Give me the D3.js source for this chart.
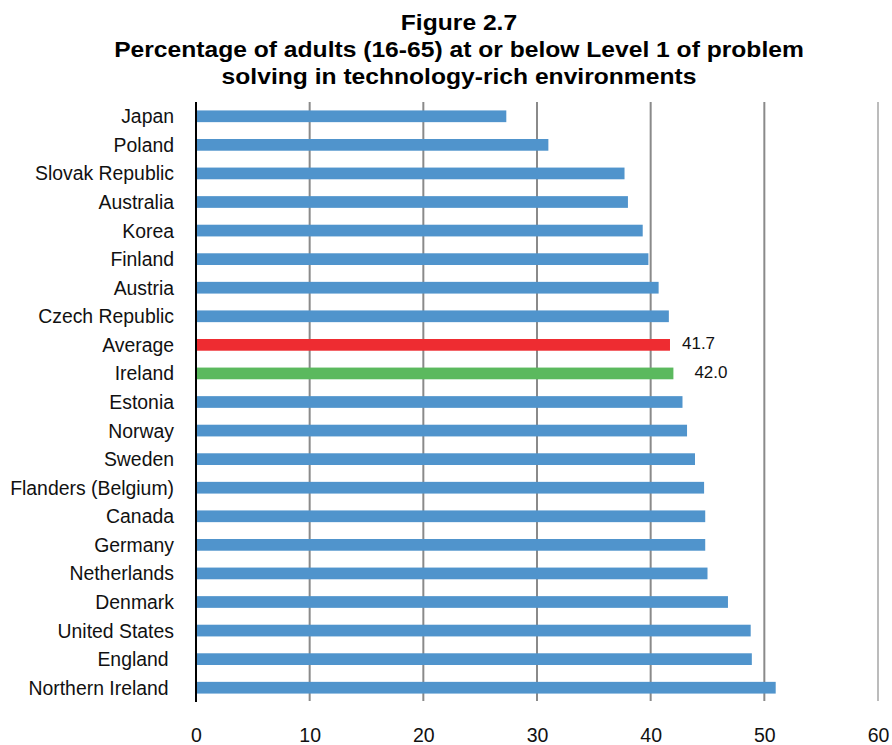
<!DOCTYPE html>
<html>
<head>
<meta charset="utf-8">
<script src="https://cdn.jsdelivr.net/npm/d3@7"></script>
<style>
  html, body { margin: 0; padding: 0; background: #fff; }
  svg { display: block; font-family: "Liberation Sans", Arial, sans-serif; }
  .cat { white-space: pre; }
</style>
</head>
<body>
<svg id="chart" width="892" height="745"></svg>
<script>
// Countries, top to bottom
const categories = [
  "Japan", "Poland", "Slovak Republic", "Australia", "Korea", "Finland",
  "Austria", "Czech Republic", "Average", "Ireland", "Estonia", "Norway",
  "Sweden", "Flanders (Belgium)", "Canada", "Germany", "Netherlands",
  "Denmark", "United States", "England", "Northern Ireland"
];
// % of adults at or below Level 1
const values = [
  27.3, 31.0, 37.7, 38.0, 39.3, 39.8,
  40.7, 41.6, 41.7, 42.0, 42.8, 43.2,
  43.9, 44.7, 44.8, 44.8, 45.0,
  46.8, 48.8, 48.9, 51.0
];
// Bars that carry a value label
const labelled = ["Average", "Ireland"];
const xTicks = [0, 10, 20, 30, 40, 50, 60];
const titleLines = [
  "Figure 2.7",
  "Percentage of adults (16-65) at or below Level 1 of problem",
  "solving in technology-rich environments"
];

const data = categories.map((c, i) => ({ name: c, value: values[i] }));

const svg = d3.select("#chart");
const x = d3.scaleLinear().domain([0, 60]).range([196, 878]);
const y = d3.scaleBand().domain(categories).range([102, 702])
  .paddingInner(0.59).paddingOuter(0.295);

const colour = d => d.name === "Average" ? "#ee2c31"
  : d.name === "Ireland" ? "#5bb95e" : "#5094cc";

// Title
svg.append("g").attr("transform", "translate(459,0) scale(1.12,1)")
  .selectAll("text").data(titleLines).join("text")
  .attr("x", 0).attr("y", (d, i) => 30 + i * 27)
  .attr("text-anchor", "middle")
  .attr("font-size", 22).attr("font-weight", "bold").attr("fill", "#000")
  .text(d => d);

// Vertical gridlines
svg.append("g").selectAll("line").data(xTicks.filter(t => t > 0)).join("line")
  .attr("x1", d => x(d)).attr("x2", d => x(d))
  .attr("y1", 102).attr("y2", 701)
  .attr("stroke", d => d === 60 ? "#a6a6a6" : "#8a8a8a")
  .attr("stroke-width", d => d === 60 ? 1.5 : 2);

// Bars
svg.append("g").selectAll("rect").data(data).join("rect")
  .attr("x", x(0)).attr("y", d => y(d.name))
  .attr("width", d => x(d.value) - x(0))
  .attr("height", y.bandwidth())
  .attr("fill", colour);

// Axis line at zero
svg.append("line")
  .attr("x1", x(0)).attr("x2", x(0)).attr("y1", 102).attr("y2", 702)
  .attr("stroke", "#000").attr("stroke-width", 2);

// Category labels (some carry a trailing space)
const padded = { "England": "England ", "Northern Ireland": "Northern Ireland " };
svg.append("g").selectAll("text").data(categories).join("text")
  .attr("class", "cat")
  .attr("x", 174).attr("y", d => y(d) + y.bandwidth() / 2)
  .attr("dy", "0.36em").attr("text-anchor", "end")
  .attr("font-size", 19.4).attr("fill", "#111")
  .text(d => padded[d] || d);

// Tick labels along the bottom
const xAxis = d3.axisBottom(x).tickValues(xTicks).tickSize(0).tickPadding(0);
const ax = svg.append("g").attr("transform", "translate(0,728)").call(xAxis);
ax.select(".domain").remove();
ax.selectAll("text").attr("font-size", 19.5).attr("fill", "#111")
  .attr("font-family", "Liberation Sans, Arial, sans-serif");

// Value labels
const labelOffset = { "Average": 12, "Ireland": 21 };
svg.append("g").selectAll("text").data(data.filter(d => labelled.includes(d.name))).join("text")
  .attr("x", d => x(d.value) + labelOffset[d.name])
  .attr("y", d => y(d.name) + y.bandwidth() / 2 - 2)
  .attr("dy", "0.36em")
  .attr("font-size", 17).attr("fill", "#111")
  .text(d => d.value.toFixed(1));
</script>
</body>
</html>
